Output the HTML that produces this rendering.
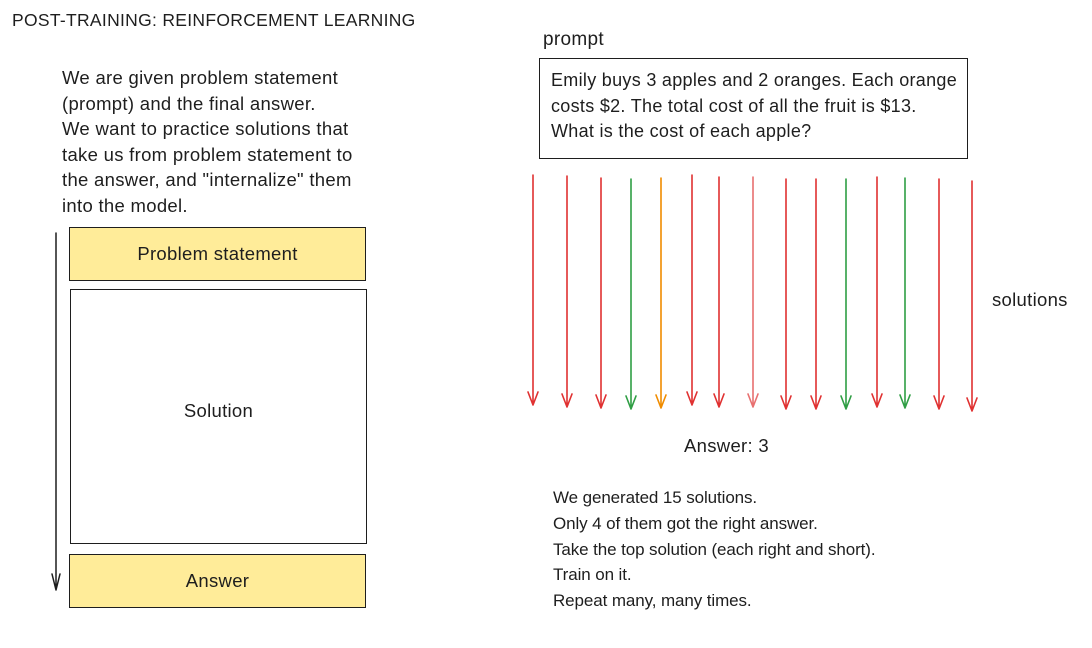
<!DOCTYPE html>
<html><head><meta charset="utf-8"><style>
html,body{margin:0;padding:0;background:#fff;}
body{width:1092px;height:648px;position:relative;overflow:hidden;font-family:"Liberation Sans",sans-serif;color:#1e1e1e;}
.t{position:absolute;font-size:18.5px;line-height:25.5px;white-space:nowrap;letter-spacing:0.3px;}
.box{position:absolute;border:1.5px solid #1e1e1e;box-sizing:border-box;display:flex;align-items:center;justify-content:center;font-size:18.5px;letter-spacing:0.3px;}
.y{background:#ffec99;}
</style></head><body>
<div class="t" style="left:12px;top:8px;font-size:17.5px;">POST-TRAINING: REINFORCEMENT LEARNING</div>
<div class="t" style="left:62px;top:65px;">We are given problem statement<br>(prompt) and the final answer.<br>We want to practice solutions that<br>take us from problem statement to<br>the answer, and "internalize" them<br>into the model.</div>
<div class="box y" style="left:69px;top:227px;width:297px;height:54px;">Problem statement</div>
<div class="box" style="left:70px;top:289px;width:297px;height:255px;padding-bottom:12px;">Solution</div>
<div class="box y" style="left:69px;top:554px;width:297px;height:54px;">Answer</div>
<div class="t" style="left:543px;top:27px;font-size:19px;">prompt</div>
<div class="box" style="left:539px;top:58px;width:429px;height:101px;display:block;padding:9px 0 0 11px;font-size:18px;line-height:25.5px;">Emily buys 3 apples and 2 oranges. Each orange<br>costs $2. The total cost of all the fruit is $13.<br>What is the cost of each apple?</div>
<div class="t" style="left:992px;top:287px;">solutions</div>
<div class="t" style="left:684px;top:433px;">Answer: 3</div>
<div class="t" style="left:553px;top:485px;line-height:25.8px;font-size:17px;letter-spacing:-0.1px;">We generated 15 solutions.<br>Only 4 of them got the right answer.<br>Take the top solution (each right and short).<br>Train on it.<br>Repeat many, many times.</div>
<svg width="1092" height="648" style="position:absolute;left:0;top:0" fill="none" stroke-linecap="round" stroke-linejoin="round">
<g stroke="#1e1e1e" stroke-width="1.5"><path d="M56 233 L56 590 M52 574 L56 590 L60 574"/></g>
<g stroke-width="1.6">
<path stroke="#e03131" d="M533 175 L533 405 M528 392 L533 405 L538 392"/>
<path stroke="#e03131" d="M567 176 L567 407 M562 394 L567 407 L572 394"/>
<path stroke="#e03131" d="M601 178 L601 408 M596 395 L601 408 L606 395"/>
<path stroke="#2f9e44" d="M631 179 L631 409 M626 396 L631 409 L636 396"/>
<path stroke="#f08c00" d="M661 178 L661 408 M656 395 L661 408 L666 395"/>
<path stroke="#e03131" d="M692 175 L692 405 M687 392 L692 405 L697 392"/>
<path stroke="#e03131" d="M719 177 L719 407 M714 394 L719 407 L724 394"/>
<path stroke="#e87070" d="M753 177 L753 407 M748 394 L753 407 L758 394"/>
<path stroke="#e03131" d="M786 179 L786 409 M781 396 L786 409 L791 396"/>
<path stroke="#e03131" d="M816 179 L816 409 M811 396 L816 409 L821 396"/>
<path stroke="#2f9e44" d="M846 179 L846 409 M841 396 L846 409 L851 396"/>
<path stroke="#e03131" d="M877 177 L877 407 M872 394 L877 407 L882 394"/>
<path stroke="#2f9e44" d="M905 178 L905 408 M900 395 L905 408 L910 395"/>
<path stroke="#e03131" d="M939 179 L939 409 M934 396 L939 409 L944 396"/>
<path stroke="#e03131" d="M972 181 L972 411 M967 398 L972 411 L977 398"/>
</g>
</svg>
</body></html>
